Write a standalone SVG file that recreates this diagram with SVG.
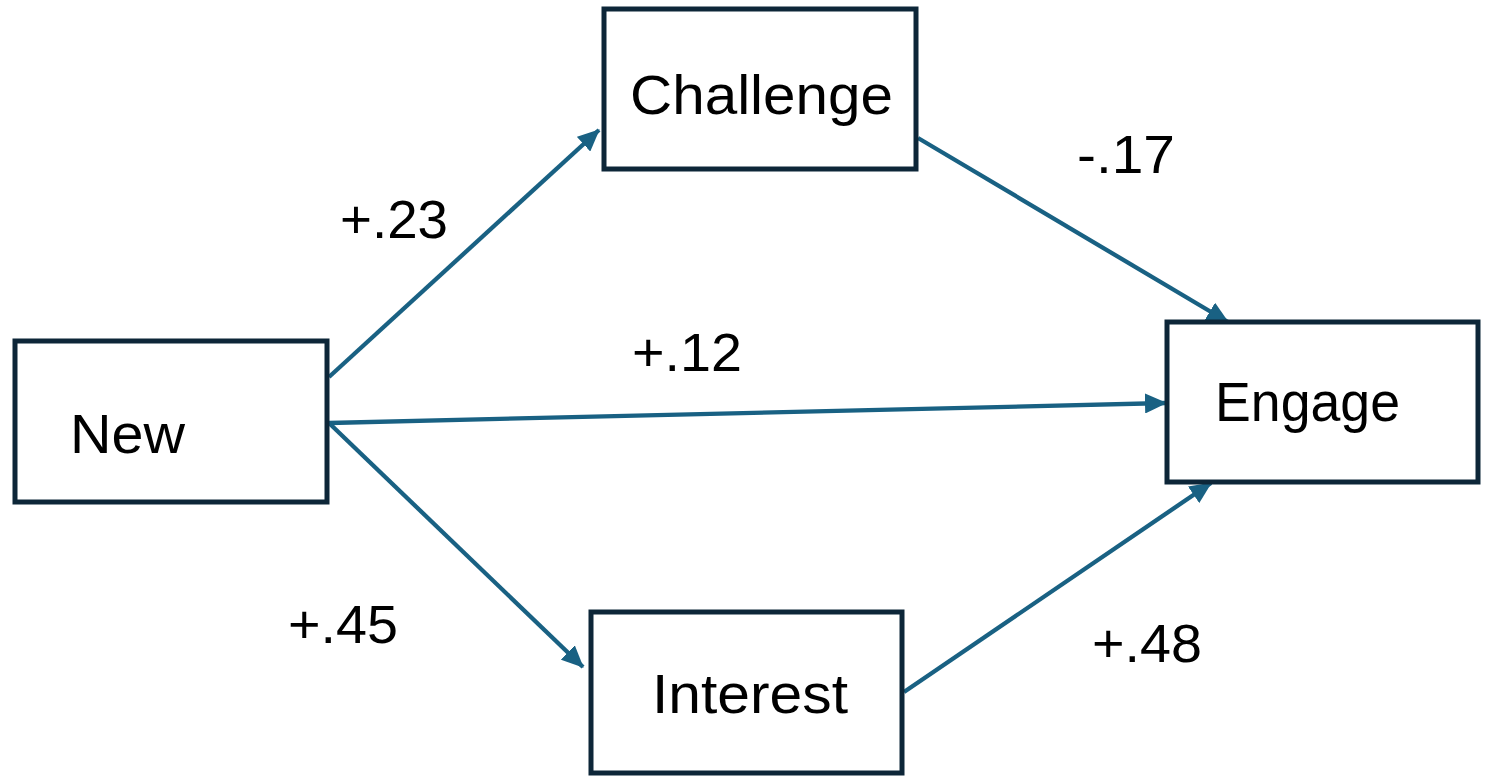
<svg xmlns="http://www.w3.org/2000/svg" width="1489" height="777" viewBox="0 0 1489 777">
<style>
.box{fill:#ffffff;stroke:#0d2638;stroke-width:5}
.lbl{font-family:"Liberation Sans",Arial,sans-serif;font-size:55px;fill:#000000}
.coef{font-family:"Liberation Sans",Arial,sans-serif;font-size:53px;fill:#000000}
.edge{fill:none;stroke:#196183;stroke-width:4.3;marker-end:url(#ah)}
</style>
<defs>
<marker id="ah" markerUnits="userSpaceOnUse" markerWidth="22" markerHeight="20" refX="21" refY="10" orient="auto">
<path d="M0,0 L22,10 L0,20 z" fill="#196183"/>
</marker>
</defs>
<rect width="1489" height="777" fill="#ffffff"/>
<g id="connectors">
<line class="edge" x1="329" y1="377" x2="599" y2="130"/>
<line class="edge" x1="329" y1="423" x2="1166" y2="403"/>
<line class="edge" x1="329" y1="423" x2="583" y2="667"/>
<line class="edge" x1="918" y1="138" x2="1228" y2="322"/>
<line class="edge" x1="904" y1="692" x2="1211" y2="483"/>
</g>
<g id="node-new">
<rect class="box" x="15" y="341" width="312" height="161"/>
<text class="lbl" x="70" y="453" textLength="115" lengthAdjust="spacingAndGlyphs">New</text>
</g>
<g id="node-challenge">
<rect class="box" x="604" y="9" width="312" height="160"/>
<text class="lbl" x="630" y="114" textLength="263" lengthAdjust="spacingAndGlyphs">Challenge</text>
</g>
<g id="node-engage">
<rect class="box" x="1167" y="322" width="311" height="160"/>
<text class="lbl" x="1215" y="421" textLength="185" lengthAdjust="spacingAndGlyphs">Engage</text>
</g>
<g id="node-interest">
<rect class="box" x="591" y="612" width="311" height="161"/>
<text class="lbl" x="652" y="713" textLength="196" lengthAdjust="spacingAndGlyphs">Interest</text>
</g>
<g id="labels">
<text class="coef" x="340" y="238" textLength="108" lengthAdjust="spacingAndGlyphs">+.23</text>
<text class="coef" x="1077" y="173" textLength="98" lengthAdjust="spacingAndGlyphs">-.17</text>
<text class="coef" x="632" y="371" textLength="110" lengthAdjust="spacingAndGlyphs">+.12</text>
<text class="coef" x="288" y="643" textLength="110" lengthAdjust="spacingAndGlyphs">+.45</text>
<text class="coef" x="1092" y="662" textLength="110" lengthAdjust="spacingAndGlyphs">+.48</text>
</g>
</svg>
